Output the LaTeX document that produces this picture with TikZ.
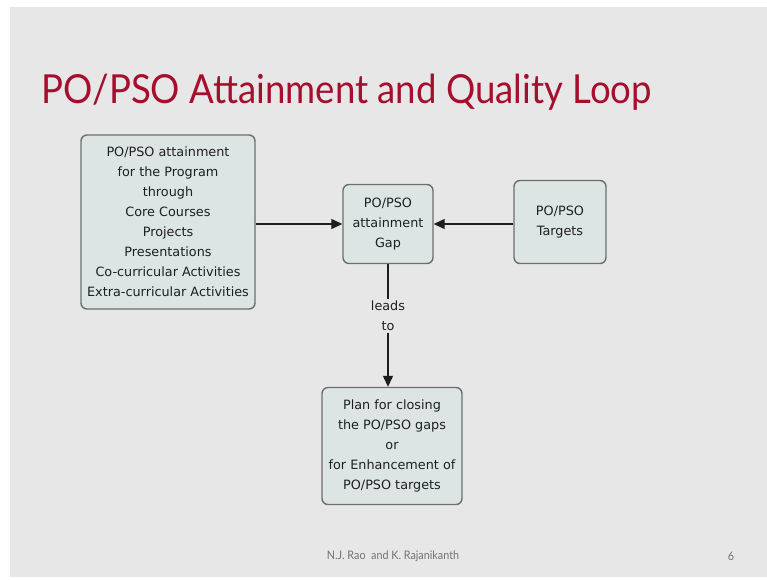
\documentclass[tikz,border=0pt]{standalone}
\usepackage{fontspec}
\setmainfont{DejaVu Sans}
\newfontfamily\titlefont[FakeStretch=0.915]{Lato}
\usetikzlibrary{arrows.meta}
\definecolor{bg}{HTML}{E7E7E7}
\definecolor{boxfill}{HTML}{DCE5E4}
\definecolor{boxline}{HTML}{6E6E6E}
\definecolor{titlered}{HTML}{A50F2D}
\definecolor{arrowc}{HTML}{1E1E1E}
\tikzset{
  boxtext/.style={font=\fontsize{12.8}{20}\selectfont, text=black!88},
  flowbox/.style={draw=boxline, fill=boxfill, line width=1.4pt, rounded corners=6pt,
    align=center, boxtext, inner sep=0pt},
  conn/.style={draw=arrowc, line width=1.3pt, -{Triangle[length=11pt,width=10pt]}},
}
\begin{document}
\begin{tikzpicture}[x=1pt,y=-1pt]
\useasboundingbox (0,0) rectangle (767,579);
\fill[white] (0,0) rectangle (767,579);
\fill[bg] (10,7) rectangle (767,577);
\node[anchor=base west, text=titlered, font=\titlefont\fontsize{40}{44}\selectfont] (title) at (38,103) {PO/PSO Attainment and Quality Loop};
\node[flowbox, minimum width=174pt, minimum height=174pt] (src) at (168,222) {PO/PSO attainment\\for the Program\\through\\Core Courses\\Projects\\Presentations\\Co-curricular Activities\\Extra-curricular Activities};
\node[flowbox, minimum width=90pt, minimum height=79pt] (gap) at (388,224) {PO/PSO\\attainment\\Gap};
\node[flowbox, minimum width=92pt, minimum height=83pt] (tgt) at (560,222) {PO/PSO\\Targets};
\node[flowbox, minimum width=140pt, minimum height=117pt] (plan) at (392,446) {Plan for closing\\the PO/PSO gaps\\or\\for Enhancement of\\PO/PSO targets};
\draw[conn] (src.east |- gap.west) -- (gap.west);
\draw[conn] (tgt.west |- gap.east) -- (gap.east);
\draw[conn] (gap.south) -- (gap.south |- plan.north) node[pos=0.42, fill=bg, align=center, inner sep=2pt, boxtext] (lbl) {leads\\to};
\node[text=black!55, font=\titlefont\fontsize{11.8}{13}\selectfont] (foot) at (393,556) {N.J. Rao\ \ and K. Rajanikanth};
\node[text=black!55, font=\titlefont\fontsize{11.8}{13}\selectfont] (pg) at (731,556) {6};
\end{tikzpicture}
\end{document}
